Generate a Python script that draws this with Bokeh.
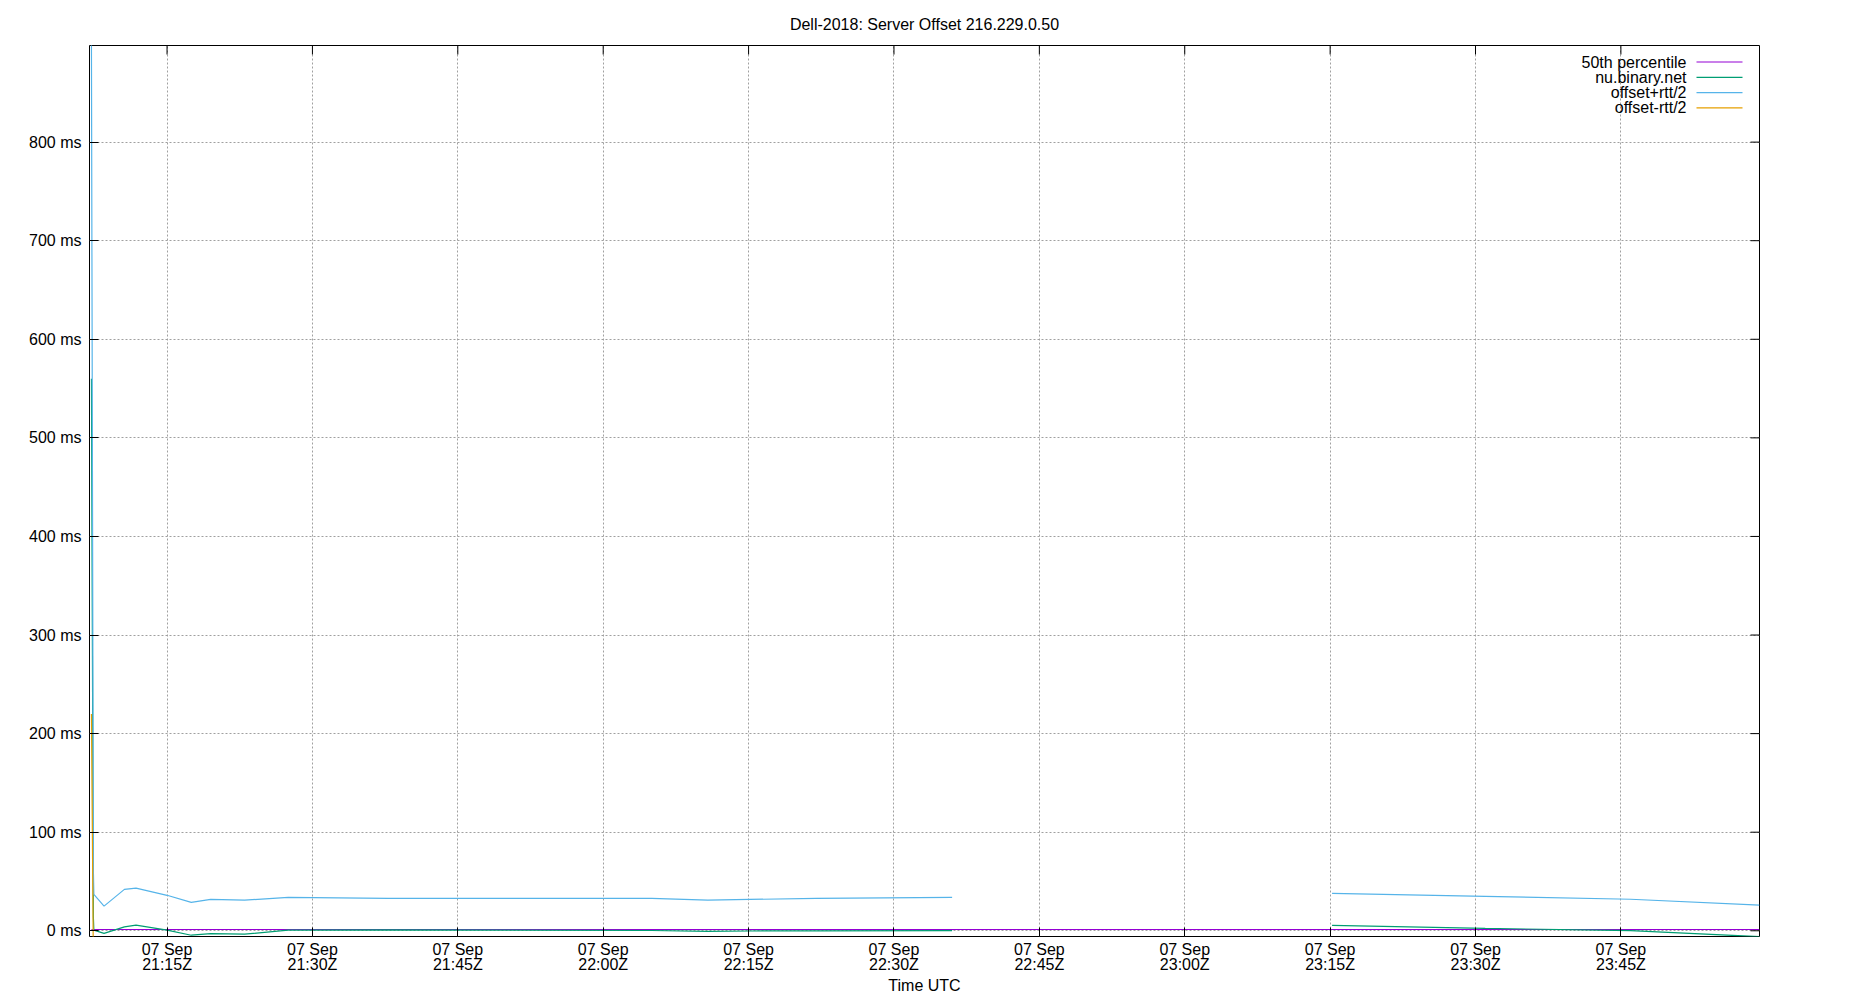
import numpy as np
import pandas as pd
from bokeh.plotting import figure
from bokeh.models import (Range1d, FixedTicker, PrintfTickFormatter,
                          DatetimeTickFormatter, Label, BoxAnnotation)
from bokeh.embed import file_html
from bokeh.resources import INLINE

# ---------------- data ----------------
DAY = "2018-09-07"
chart_title = "Dell-2018: Server Offset 216.229.0.50"
x_axis_title = "Time UTC"
series_names = ["50th percentile", "nu.binary.net", "offset+rtt/2", "offset-rtt/2"]
series_colors = ["#9400d3", "#009e73", "#56b4e9", "#e69f00"]

x_range_times = ["21:07:00", "23:59:18"]
sample_times = ["21:07:12", "21:07:24", "21:07:27", "21:08:30", "21:10:36",
                "21:11:48", "21:15:00", "21:17:30", "21:19:30", "21:23:00",
                "21:27:30", "21:37:48", "22:05:00", "22:10:48", "22:15:06",
                "22:22:00", "22:36:00", "22:55:00", "23:15:12", "23:31:00",
                "23:46:00", "23:59:18"]
offset_ms = [560, 14, 0.6, -2.7, 4.0, 5.7, 0.6, -4.5, -2.8, -3.4,
             0.6, 1.0, 0.3, -0.5, -0.2, 0.0, 0.2, np.nan, 5.5, 2.4,
             0.2, -6.0]
offset_plus_rtt2_ms = [900, 61, 37, 25, 42, 43.3, 36, 28.8, 31.8, 31.1,
                       33.9, 32.8, 32.9, 31.1, 31.8, 32.9, 33.9, np.nan, 38, 35,
                       32, 26]
offset_minus_rtt2_ms = [220, -33, -36, -30, -34, -32, -35, -38, -37, -38,
                        -33, -31, -32, -32, -32, -33, -34, np.nan, -27, -30,
                        -32, -37]
percentile_times = ["21:07:12", "23:59:18"]
percentile_50_ms = [1.3, 1.3]

x_tick_times = ["21:15", "21:30", "21:45", "22:00", "22:15", "22:30",
                "22:45", "23:00", "23:15", "23:30", "23:45"]
y_ticks_ms = [0, 100, 200, 300, 400, 500, 600, 700, 800]
y_min_ms, y_max_ms = -5.8, 898.0


def to_dt(t):
    return pd.Timestamp(f"{DAY} {t}")


def to_ms(t):
    return to_dt(t).value / 1e6


FONT = "Liberation Sans"
FS = "16px"
FRAME_W, FRAME_H = 1670, 891
TICK = 9

t_samples = [to_dt(t) for t in sample_times]
t_pct = [to_dt(t) for t in percentile_times]
x_start, x_end = to_dt(x_range_times[0]), to_dt(x_range_times[1])

p = figure(frame_width=FRAME_W, frame_height=FRAME_H,
           x_axis_type="datetime",
           x_range=Range1d(x_start, x_end),
           y_range=Range1d(y_min_ms, y_max_ms),
           output_backend="svg", toolbar_location=None,
           min_border_left=89, min_border_right=83,
           min_border_top=45, min_border_bottom=56,
           background_fill_color="white", border_fill_color="white")

# title
p.title.text = chart_title
p.title.align = "center"
p.title.text_font = FONT
p.title.text_font_size = FS
p.title.text_font_style = "normal"
p.title.text_color = "black"
p.title.standoff = 25

# frame
p.outline_line_color = "black"
p.outline_line_width = 1
p.outline_line_alpha = 1

x_ticker = FixedTicker(ticks=[to_ms(t) for t in x_tick_times])
y_ticker = FixedTicker(ticks=y_ticks_ms)
fmt = "%d %b\n%H:%MZ"
x_fmt = DatetimeTickFormatter(seconds=fmt, minsec=fmt, minutes=fmt,
                              hourmin=fmt, hours=fmt, days=fmt,
                              months=fmt, years=fmt)


def style_axis(ax):
    ax.axis_line_color = None
    ax.major_tick_in = TICK
    ax.major_tick_out = 0
    ax.major_tick_line_color = "black"
    ax.major_tick_line_width = 1
    ax.minor_tick_line_color = None
    ax.major_label_text_font = FONT
    ax.major_label_text_color = "black"
    ax.major_label_text_font_size = FS


# bottom axis
xa = p.xaxis[0]
xa.ticker = x_ticker
xa.formatter = x_fmt
style_axis(xa)
xa.major_label_standoff = 4
xa.major_label_text_line_height = 0.9
xa.axis_label = x_axis_title
xa.axis_label_text_font = FONT
xa.axis_label_text_font_size = FS
xa.axis_label_text_font_style = "normal"
xa.axis_label_text_color = "black"
xa.axis_label_standoff = 1
xa.axis_label_text_line_height = 1.0

# left axis
ya = p.yaxis[0]
ya.ticker = y_ticker
ya.formatter = PrintfTickFormatter(format="%d ms")
style_axis(ya)
ya.major_label_standoff = 8

# mirrored tick marks on the top and right edges (gnuplot "mirror")
top_tick_x = [to_dt(t) for t in x_tick_times]
p.ray(x=top_tick_x, y=[y_max_ms] * len(top_tick_x), length=TICK,
      length_units="screen", angle=-np.pi / 2, line_color="black", line_width=1)
p.ray(x=[x_end] * len(y_ticks_ms), y=y_ticks_ms, length=TICK,
      length_units="screen", angle=np.pi, line_color="black", line_width=1)

# grid
for g in (p.xgrid[0], p.ygrid[0]):
    g.grid_line_color = "#a0a0a0"
    g.grid_line_dash = "2 2"
    g.grid_line_width = 1
p.xgrid[0].ticker = x_ticker
p.ygrid[0].ticker = y_ticker

# series
p.line(t_pct, percentile_50_ms, line_color=series_colors[0], line_width=1.2)
p.line(t_samples, offset_ms, line_color=series_colors[1], line_width=1.2)
p.line(t_samples, offset_plus_rtt2_ms, line_color=series_colors[2], line_width=1.2)
p.line(t_samples, offset_minus_rtt2_ms, line_color=series_colors[3], line_width=1.2)

# gnuplot-style key: text right-aligned, sample line to its right
text_right = FRAME_W - 73
sample_left, sample_right = FRAME_W - 63, FRAME_W - 17
row_top, row_step = FRAME_H - 16.5, 15.3
for i, (name, color) in enumerate(zip(series_names, series_colors)):
    yy = row_top - i * row_step
    p.add_layout(Label(x=text_right, y=yy, x_units="screen", y_units="screen",
                       text=name, text_align="right", text_baseline="middle",
                       text_font=FONT, text_font_size=FS, text_color="black"))
    p.add_layout(BoxAnnotation(left=sample_left, right=sample_right,
                               bottom=yy - 0.6, top=yy + 0.6,
                               left_units="screen", right_units="screen",
                               bottom_units="screen", top_units="screen",
                               fill_color=color, fill_alpha=1.0,
                               line_color=None))

open("out.html", "w").write(file_html(p, INLINE))
